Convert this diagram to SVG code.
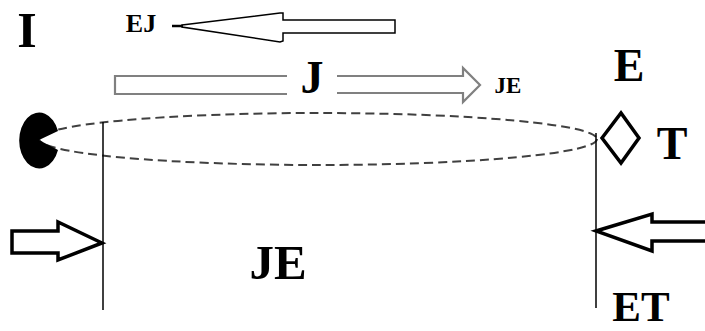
<svg xmlns="http://www.w3.org/2000/svg" width="705" height="331" viewBox="0 0 705 331">
<style>
.lbl{font-family:"Liberation Serif","Times New Roman",serif;font-weight:bold;fill:#000;text-anchor:middle}
.hollow{fill:#fff;stroke:#000;stroke-width:3.5;stroke-linejoin:miter}
.thin{fill:#fff;stroke:#000;stroke-width:1.5}
.gray{fill:none;stroke:#808080;stroke-width:2.2}
</style>
<rect width="705" height="331" fill="#fff"/>
<g id="labels">
<text class="lbl" x="27" y="47" font-size="50">I</text>
<text class="lbl" x="141" y="32" font-size="26">EJ</text>
<text class="lbl" x="312" y="93" font-size="46">J</text>
<text class="lbl" x="508" y="93" font-size="23">JE</text>
<text class="lbl" x="629" y="81" font-size="46">E</text>
<text class="lbl" x="672" y="159" font-size="46">T</text>
<text class="lbl" x="278" y="279" font-size="49">JE</text>
<text class="lbl" x="641" y="321" font-size="43">ET</text>
</g>
<g id="connectors">
<ellipse cx="318" cy="139" rx="279" ry="26" fill="none" stroke="#404040" stroke-width="2" stroke-dasharray="9,5"/>
<line x1="103" y1="122" x2="103" y2="310" stroke="#000" stroke-width="1.5"/>
<line x1="596" y1="133" x2="596" y2="308" stroke="#000" stroke-width="1.5"/>
<g id="arrow-ej">
<polygon class="thin" points="182,25 280,13 283,13 283,20 395,20 395,33 283,33 283,41 280,42 182,27"/>
<line x1="172" y1="26" x2="183" y2="26" stroke="#000" stroke-width="2.5"/>
</g>
<g id="arrow-j">
<polyline class="gray" points="287,76 115,76 115,94 287,94"/>
<polyline class="gray" points="337,76 463,76 463,68 480,85 463,102 463,93 337,93"/>
</g>
<polygon id="arrow-left" class="hollow" points="12,231 58,231 58,222 102,243 58,260 58,253 12,253"/>
<polygon id="arrow-right" class="hollow" points="708,222 652,222 652,214 596,231 652,251 652,241 708,241"/>
</g>
<g id="source">
<path d="M58,131 A20,28 0 1 0 58,150 L39,140 Z" fill="#000"/>
</g>
<g id="target">
<polygon points="602,138 621,113 639,138 621,163" fill="#fff" stroke="#000" stroke-width="3.5"/>
</g>
</svg>
